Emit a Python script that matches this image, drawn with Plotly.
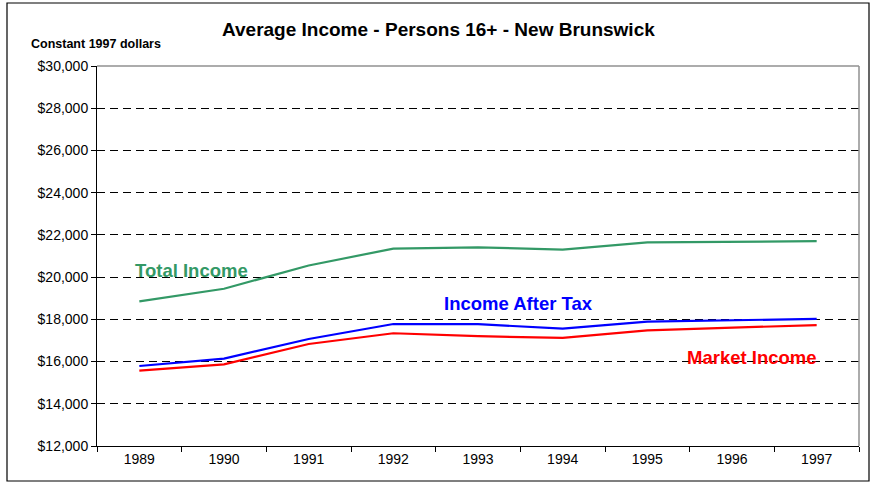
import plotly.graph_objects as go

years = ["1989", "1990", "1991", "1992", "1993", "1994", "1995", "1996", "1997"]
total_income = [18850, 19450, 20550, 21350, 21410, 21300, 21650, 21660, 21700]
income_after_tax = [15790, 16140, 17070, 17780, 17770, 17560, 17890, 17970, 18020]
market_income = [15570, 15870, 16830, 17340, 17200, 17120, 17480, 17590, 17730]
y_ticks = [12000, 14000, 16000, 18000, 20000, 22000, 24000, 26000, 28000, 30000]
y_tick_labels = ["$12,000", "$14,000", "$16,000", "$18,000", "$20,000",
                 "$22,000", "$24,000", "$26,000", "$28,000", "$30,000"]

GREEN = "#339966"
BLUE = "#0000FF"
RED = "#FF0000"
FONT = "Liberation Sans, Arial, sans-serif"

W, H = 871, 483
L, R, T, B = 97, 12, 66, 37
PW, PH = W - L - R, H - T - B


def px(x):
    return (x - L) / PW


def py(y):
    return (H - B - y) / PH


fig = go.Figure()
for name, vals, col in [("Total Income", total_income, GREEN),
                        ("Income After Tax", income_after_tax, BLUE),
                        ("Market Income", market_income, RED)]:
    fig.add_trace(go.Scatter(x=years, y=vals, mode="lines", name=name,
                             line=dict(color=col, width=2.2), hoverinfo="skip"))

fig.update_layout(
    width=W, height=H,
    margin=dict(l=L, r=R, t=T, b=B),
    paper_bgcolor="white", plot_bgcolor="white",
    showlegend=False,
    font=dict(family=FONT, color="black"),
    xaxis=dict(type="category", tickson="boundaries", ticks="outside",
               ticklen=5, tickcolor="black", showline=True, linecolor="black",
               linewidth=1, showgrid=False, zeroline=False,
               tickfont=dict(size=14), range=[-0.5, 8.5]),
    yaxis=dict(range=[12000, 30000], tickvals=y_ticks, ticktext=y_tick_labels,
               ticks="outside", ticklen=5, tickcolor="black", showline=True,
               linecolor="black", linewidth=1, showgrid=True,
               gridcolor="black", gridwidth=1, griddash="8px,5px",
               zeroline=False, tickfont=dict(size=14)),
)

shapes = [
    # grey top and right border of plot area
    dict(type="line", xref="paper", yref="paper", x0=0, x1=1, y0=1, y1=1,
         line=dict(color="#909090", width=1.5), layer="above"),
    dict(type="line", xref="paper", yref="paper", x0=1, x1=1, y0=0, y1=1,
         line=dict(color="#909090", width=1.5), layer="above"),
    # outer chart border
    dict(type="rect", xref="paper", yref="paper",
         x0=px(7), x1=px(869), y0=py(481), y1=py(3),
         line=dict(color="black", width=1.2), fillcolor="rgba(0,0,0,0)"),
]
fig.update_layout(shapes=shapes)

annotations = [
    dict(text="<b>Average Income - Persons 16+ - New Brunswick</b>",
         x=px(438), y=py(29), font=dict(size=19)),
    dict(text="<b>Constant 1997 dollars</b>", x=px(29), y=py(44),
         xanchor="left", font=dict(size=12.5)),
    dict(text="<b>Total Income</b>", x=px(191), y=py(270),
         font=dict(size=18.5, color=GREEN)),
    dict(text="<b>Income After Tax</b>", x=px(518), y=py(303),
         font=dict(size=18.5, color=BLUE)),
    dict(text="<b>Market Income</b>", x=px(752), y=py(357),
         font=dict(size=18.5, color=RED)),
]
for a in annotations:
    a.setdefault("xanchor", "center")
    a.update(xref="paper", yref="paper", yanchor="middle", showarrow=False)
fig.update_layout(annotations=annotations)

fig.write_html("out.html", config={"displayModeBar": False},
               post_script="document.body.style.margin='0';")
